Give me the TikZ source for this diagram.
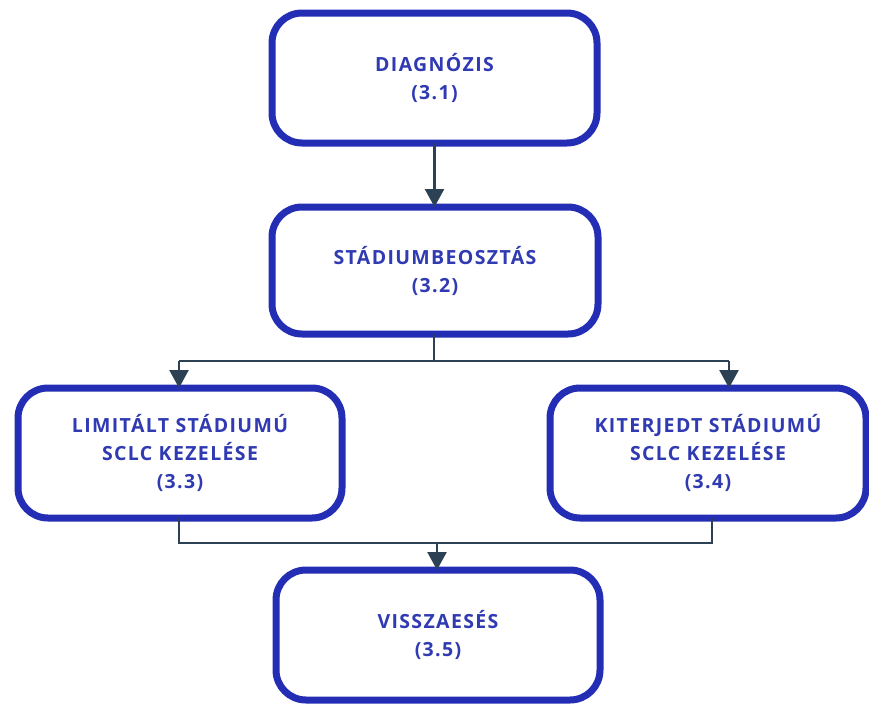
\documentclass[tikz,border=0pt]{standalone}
\usepackage{fontspec}
\newfontfamily\boxfont{Open Sans}[LetterSpace=7]
\usetikzlibrary{arrows.meta}
\definecolor{boxblue}{RGB}{36,46,180}
\definecolor{textblue}{RGB}{48,58,178}
\definecolor{linkgray}{RGB}{44,66,84}
\tikzset{
  stage/.style={draw=boxblue, line width=7pt, rounded corners=30pt, fill=white,
    outer sep=0pt, align=center, text=textblue,
    font=\boxfont\bfseries\fontsize{19.5}{28}\selectfont},
  link/.style={draw=linkgray, line width=2.5pt},
  linkarrow/.style={link, -{Triangle[width=19pt,length=18pt]}},
}
\begin{document}
\begin{tikzpicture}[x=1pt,y=-1pt]
  \useasboundingbox (0,0) rectangle (869,704);
  % stages of the workflow
  \node[stage, minimum width=325pt, minimum height=130pt] (diag) at (434.5,78) {DIAGNÓZIS\\(3.1)};
  \node[stage, minimum width=326pt, minimum height=127pt] (stage) at (435,270.5) {STÁDIUMBEOSZTÁS\\(3.2)};
  \node[stage, minimum width=324pt, minimum height=130pt] (lim) at (180,453) {LIMITÁLT STÁDIUMÚ\\SCLC KEZELÉSE\\(3.3)};
  \node[stage, minimum width=316pt, minimum height=130pt] (ext) at (708,453) {KITERJEDT STÁDIUMÚ\\SCLC KEZELÉSE\\(3.4)};
  \node[stage, minimum width=324pt, minimum height=130pt] (rel) at (438,635) {VISSZAESÉS\\(3.5)};
  % branching and merging points
  \coordinate (split) at (434,361);
  \coordinate (splitL) at (179,361);
  \coordinate (splitR) at (729,361);
  \coordinate (limOut) at (179,518);
  \coordinate (extOut) at (712,518);
  \coordinate (mergeL) at (179,543);
  \coordinate (mergeR) at (712,543);
  \coordinate (merge) at (437,543);
  % connectors
  \draw[linkarrow] (diag.south) -- (diag.south |- stage.north);
  \draw[link] (stage.south -| split) -- (split);
  \draw[link] (splitL) -- (splitR);
  \draw[linkarrow] (splitL) -- (splitL |- lim.north);
  \draw[linkarrow] (splitR) -- (splitR |- ext.north);
  \draw[link] (limOut) -- (mergeL) -- (mergeR) -- (extOut);
  \draw[linkarrow] (merge) -- (merge |- rel.north);
\end{tikzpicture}
\end{document}
